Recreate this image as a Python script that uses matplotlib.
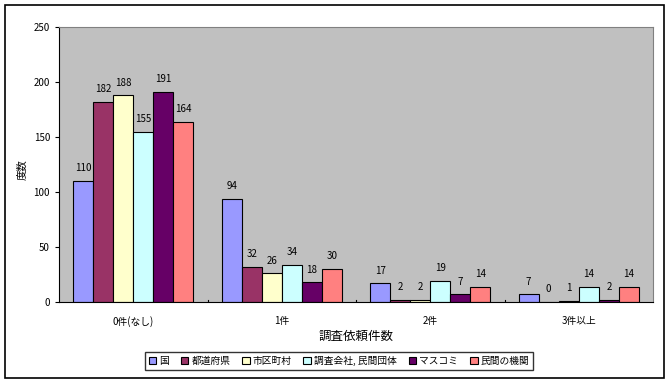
import numpy as np
import matplotlib.pyplot as plt
from matplotlib.patches import Rectangle

plt.rcParams['font.family'] = ['Noto Sans CJK JP', 'DejaVu Sans']

# データ
categories = ['0件(なし)', '1件', '2件', '3件以上']
series = ['国', '都道府県', '市区町村', '調査会社, 民間団体', 'マスコミ', '民間の機関']
kuni = [110, 94, 17, 7]
todofuken = [182, 32, 2, 0]
shikuchoson = [188, 26, 2, 1]
chosa = [155, 34, 19, 14]
masukomi = [191, 18, 7, 2]
minkan = [164, 30, 14, 14]
colors = ['#9999FF', '#993366', '#FFFFCC', '#CCFFFF', '#660066', '#FF8080']

values = [kuni, todofuken, shikuchoson, chosa, masukomi, minkan]

fig = plt.figure(figsize=(6.7, 3.85), dpi=100)
ax = fig.add_axes([59 / 670, 0.2156, 594 / 670, 0.714])
ax.set_facecolor('#C0C0C0')

x = np.arange(len(categories))
w = 1 / 7.4
for i, (vals, c, name) in enumerate(zip(values, colors, series)):
    pos = x - 3 * w + (i + 0.5) * w
    bars = ax.bar(pos, vals, w, color=c, edgecolor='black', linewidth=0.8, label=name)
    for b, v in zip(bars, vals):
        ax.text(b.get_x() + b.get_width() / 2, v + 7, str(v), ha='center', va='bottom', fontsize=7)

ax.set_xlim(-0.5, len(categories) - 0.5)
ax.set_ylim(0, 250)
ax.set_yticks(range(0, 251, 50))
ax.tick_params(axis='y', direction='out', length=3, labelsize=7)
ax.set_xticks(x)
ax.set_xticklabels(categories, fontsize=7)
ax.tick_params(axis='x', length=0, pad=10)
# 区切りの目盛
for b in x[:-1] + 0.5:
    ax.plot([b, b], [0, 2], color='black', lw=0.8)

for s in ['left', 'bottom']:
    ax.spines[s].set_color('black')
for s in ['top', 'right']:
    ax.spines[s].set_color('#808080')

ax.set_xlabel('調査依頼件数', fontsize=9, labelpad=2)
fig.text(22 / 670, 1 - 170 / 385, '度数', rotation=90, ha='center', va='center', fontsize=7.5)

leg = fig.legend(loc='center', bbox_to_anchor=(0.506, 0.0623), ncol=6, fontsize=7,
                 frameon=True, fancybox=False, edgecolor='black', handlelength=0.8,
                 handleheight=0.8, handletextpad=0.3, columnspacing=1.2,
                 borderpad=0.4)
leg.get_frame().set_linewidth(1.0)

fig.patches.append(Rectangle((0.008, 0.018), 0.983, 0.968, transform=fig.transFigure,
                             fill=False, edgecolor='black', linewidth=1.2))

fig.savefig('out.png', dpi=100)
